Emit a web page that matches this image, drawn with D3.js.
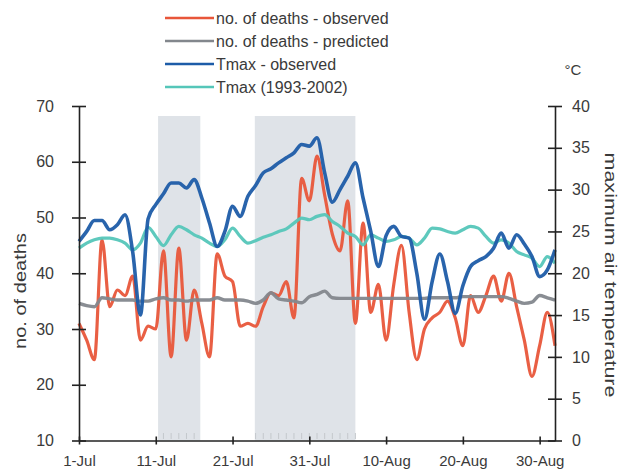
<!DOCTYPE html>
<html><head><meta charset="utf-8">
<script src="https://cdn.jsdelivr.net/npm/d3@7"></script>
<style>body{margin:0;background:#fff}svg{display:block}text{font-family:"Liberation Sans",Arial,sans-serif;fill:#3a3a3a}</style>
</head><body>
<svg id="c" width="622" height="476"></svg>
<script>
const days = d3.range(0, 63); // day index from 1-Jul
const deathsObserved = [31,28,24.5,46,34,37,36,39.5,28,30.5,30,44,25,44.5,28,37,31,25,43.5,39.5,38.5,30.5,31,30.5,34,36.5,36,38.5,32,57,53,61,54,47,44,53,31,49,33,38,28,38,45,33,24.5,30,32,33,35,32,27,36,33,36,39.5,35,40,34,28,21.5,27,33,27];
const deathsPredicted = [34.6,34.2,34,35.6,35.4,35.2,35.2,35.2,35,35,35.4,35.6,35.2,35.2,35,35.2,35.2,35.2,35.6,35.2,35.2,35.2,35,34.6,35.2,36.5,35.4,35.2,35,34.7,35.8,36.2,36.8,35.6,35.5,35.5,35.5,35.5,35.5,35.5,35.5,35.5,35.5,35.5,35.5,35.5,35.6,35.6,35.6,35.6,35.8,35.8,35.8,35.8,35.8,35.8,35.5,35,34.6,34.8,36,35.6,35.2];
const tmaxObserved = [23.8,25,26.3,26.3,25.2,25.8,27,22.5,15,26.5,28.2,29.5,30.8,30.8,30.2,31.2,29,26,23.2,25,28,26.8,29.2,30.5,32,32.5,33.2,33.8,34.4,35.4,35.2,36.2,32,28.5,30,31.6,33.2,29,25,20.8,24.5,25.6,24.4,24.2,20,14.5,19,22.3,19,15.2,18.5,20.8,21.5,22,23,24.8,23,24.6,23.5,22,19.6,20.4,22.8];
const tmaxNormal = [23,23.6,24,24.2,24.2,24,23.6,22.8,23.6,25.5,24.4,23.3,24.6,25.6,25.2,24.6,24.2,23.6,23.2,24,25.4,24.4,23.6,23.9,24.3,24.6,25,25.3,26,26.6,26.4,26.8,27,26.2,25.6,24.8,24.4,23.4,24.6,24.2,23.8,24,24.4,24.2,23.4,24.2,25.4,25.3,25,24.8,25.2,25.6,25.4,24.4,23.6,24,23.6,22.6,22.2,21.8,20.8,22,21.2];
const heatwaves = [[10.3,15.8],[22.9,36]];
const xTickDays = [0,10,20,30,40,50,60];
const xTickLabels = ["1-Jul","11-Jul","21-Jul","31-Jul","10-Aug","20-Aug","30-Aug"];
const leftTicks = [10,20,30,40,50,60,70];
const rightTicks = [0,5,10,15,20,25,30,35,40];
const legendLabels = ["no. of deaths - observed","no. of deaths - predicted","Tmax - observed","Tmax (1993-2002)"];
const colors = ["#e8563a","#83878d","#1d5ca8","#55c6b9"];

const svg = d3.select("#c");
const x = d3.scaleLinear().domain([0,62]).range([79,555]);
const yL = d3.scaleLinear().domain([10,70]).range([440.5,106]);
const yR = d3.scaleLinear().domain([0,40]).range([440.5,106]);

svg.selectAll("rect.hw").data(heatwaves).join("rect")
  .attr("x",d=>x(d[0])).attr("width",d=>x(d[1])-x(d[0]))
  .attr("y",116).attr("height",440.5-116).attr("fill","#dfe3e8");
heatwaves.forEach(h=>{
  const ds = d3.range(Math.ceil(h[0]), Math.floor(h[1])+1);
  svg.selectAll(null).data(ds).join("line")
    .attr("x1",d=>x(d)).attr("x2",d=>x(d)).attr("y1",433).attr("y2",439)
    .attr("stroke","#c4c8cc").attr("stroke-width",1);
});

const curve = d3.curveMonotoneX;
const series = [
  {v:deathsObserved, s:yL, c:colors[0], w:3.2},
  {v:deathsPredicted, s:yL, c:colors[1], w:3.4},
  {v:tmaxNormal, s:yR, c:colors[3], w:3.2},
  {v:tmaxObserved, s:yR, c:colors[2], w:3.6}
];
series.forEach(se=>{
  const line = d3.line().x((d,i)=>x(days[i])).y(d=>se.s(d)).curve(curve);
  svg.append("path").datum(se.v).attr("d",line).attr("fill","none")
    .attr("stroke",se.c).attr("stroke-width",se.w).attr("stroke-linejoin","round").attr("opacity",0.95);
});

const axL = d3.axisLeft(yL).tickValues(leftTicks).tickSize(0).tickPadding(25);
const gL = svg.append("g").attr("transform","translate(79,0)").call(axL);
const axR = d3.axisRight(yR).tickValues(rightTicks).tickSize(0).tickPadding(17);
const gR = svg.append("g").attr("transform","translate(555,0)").call(axR);
const axB = d3.axisBottom(x).tickValues(xTickDays).tickFormat((d,i)=>xTickLabels[i]).tickSize(0).tickPadding(15);
const gB = svg.append("g").attr("transform","translate(0,440.5)").call(axB);
[gL,gR,gB].forEach(g=>{
  g.select(".domain").attr("stroke","#222").attr("stroke-width",1.6);
  g.selectAll("text").style("font-size","16px").attr("fill","#3a3a3a");
});
gB.selectAll("text").style("font-size","15px");
gL.selectAll(".tick").append("line").attr("x1",-7).attr("x2",7).attr("stroke","#222").attr("stroke-width",1.6);
gR.selectAll(".tick").append("line").attr("x1",-7).attr("x2",7).attr("stroke","#222").attr("stroke-width",1.6);
gB.selectAll(".tick").append("line").attr("y1",-4).attr("y2",4).attr("stroke","#222").attr("stroke-width",1.6);

svg.append("text").attr("transform","translate(26,291) rotate(-90)").attr("text-anchor","middle")
  .attr("textLength",116).attr("lengthAdjust","spacingAndGlyphs")
  .style("font-size","17px").text("no. of deaths");
svg.append("text").attr("transform","translate(605,275) rotate(90)").attr("text-anchor","middle")
  .attr("textLength",245).attr("lengthAdjust","spacingAndGlyphs")
  .style("font-size","17px").text("maximum air temperature");
svg.append("text").attr("x",573).attr("y",75).attr("text-anchor","middle").style("font-size","15px").text("°C");

const lg = svg.append("g");
legendLabels.forEach((t,i)=>{
  const yy = 18 + i*23;
  lg.append("line").attr("x1",165).attr("x2",214).attr("y1",yy).attr("y2",yy)
    .attr("stroke",colors[i]).attr("stroke-width",2.5);
  lg.append("text").attr("x",216).attr("y",yy+6).style("font-size","16px").text(t);
});
</script>
</body></html>
